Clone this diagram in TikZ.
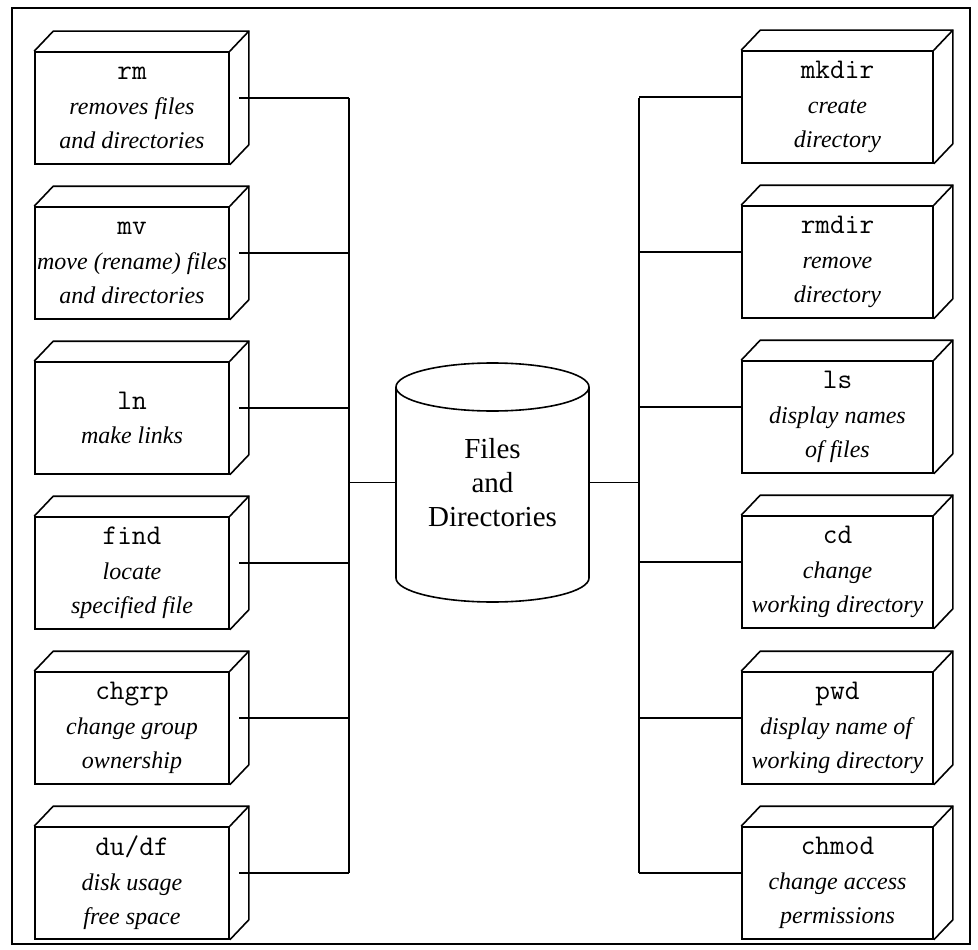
\documentclass[tikz,border=0pt]{standalone}
\usepackage{fontspec}
\setmainfont{Liberation Serif}
\usetikzlibrary{calc}
\tikzset{
  ln/.style={line width=1.6pt, line join=miter},
  frontbox/.style={ln, draw, fill=white, minimum height=112pt, inner sep=0pt, align=center,
    font=\fontsize{24}{34.5}\selectfont},
  lbox/.style={frontbox, minimum width=194pt},
  rbox/.style={frontbox, minimum width=191pt},
}
\newcommand{\depth}[1]{%
  \draw[ln] (#1.north west) -- ++(19,-20) coordinate (#1-bl)
    -- ($(#1.north east)+(19,-20)$) coordinate (#1-br)
    -- ($(#1.south east)+(19,-20)$) -- (#1.south east);
  \draw[ln] (#1.north east) -- (#1-br);
  \coordinate (#1-s) at ($(#1.east)+(9.5,-10)$);
  \coordinate (#1-w) at ($(#1.west)+(0,-10)$);
}
\newcommand{\cmd}[1]{{\ttfamily\fontsize{28.5}{34.5}\selectfont #1}}
\begin{document}
\begin{tikzpicture}[x=1pt,y=-1pt]
\useasboundingbox (0,0) rectangle (978,950);
\draw[ln] (12,8) rectangle (970,944);

% left boxes
\node[lbox] (rm) at (132,108) {\cmd{rm}\\\textit{removes files}\\\textit{and directories}};
\node[lbox] (mv) at (132,263) {\cmd{mv}\\\textit{move (rename) files}\\\textit{and directories}};
\node[lbox] (lnk) at (132,418) {\cmd{ln}\\\textit{make links}};
\node[lbox] (find) at (132,573) {\cmd{find}\\\textit{locate}\\\textit{specified file}};
\node[lbox] (chgrp) at (132,728) {\cmd{chgrp}\\\textit{change group}\\\textit{ownership}};
\node[lbox] (du) at (132,883) {\cmd{du/df}\\\textit{disk usage}\\\textit{free space}};
\foreach \n in {rm,mv,lnk,find,chgrp,du} {\depth{\n}}

% right boxes
\node[rbox] (mkdir) at (837.5,107) {\cmd{mkdir}\\\textit{create}\\\textit{directory}};
\node[rbox] (rmdir) at (837.5,262) {\cmd{rmdir}\\\textit{remove}\\\textit{directory}};
\node[rbox] (ls) at (837.5,417) {\cmd{ls}\\\textit{display names}\\\textit{of files}};
\node[rbox] (cd) at (837.5,572) {\cmd{cd}\\\textit{change}\\\textit{working directory}};
\node[rbox] (pwd) at (837.5,728) {\cmd{pwd}\\\textit{display name of}\\\textit{working directory}};
\node[rbox] (chmod) at (837.5,883) {\cmd{chmod}\\\textit{change access}\\\textit{permissions}};
\foreach \n in {mkdir,rmdir,ls,cd,pwd,chmod} {\depth{\n}}

% cylinder
\draw[ln] (396,387) -- (396,578) arc[start angle=180,end angle=360,x radius=96.5pt,y radius=24pt] -- (589,387);
\draw[ln] (492.5,387) ellipse [x radius=96.5pt, y radius=24pt];
\node[minimum width=193pt, minimum height=191pt, inner sep=0pt, align=center,
  font=\fontsize{29}{34}\selectfont] (fd) at (492.5,482.5) {Files\\and\\Directories};

% buses
\coordinate (lt) at (349,98);
\coordinate (lb) at (349,873);
\coordinate (rt) at (639,98);
\coordinate (rb) at (639,873);
\draw[ln] (lt) -- (lb);
\draw[ln] (rt) -- (rb);
\foreach \n in {rm,mv,lnk,find,chgrp,du} {\draw[ln] (\n-s) -- (\n-s -| lt);}
\foreach \n in {mkdir,rmdir,ls,cd,pwd,chmod} {\draw[ln] (\n-w) -- (\n-w -| rt);}
\draw[ln] (fd.west) -- (fd.west -| lt);
\draw[ln] (fd.east) -- (fd.east -| rt);
\end{tikzpicture}
\end{document}
